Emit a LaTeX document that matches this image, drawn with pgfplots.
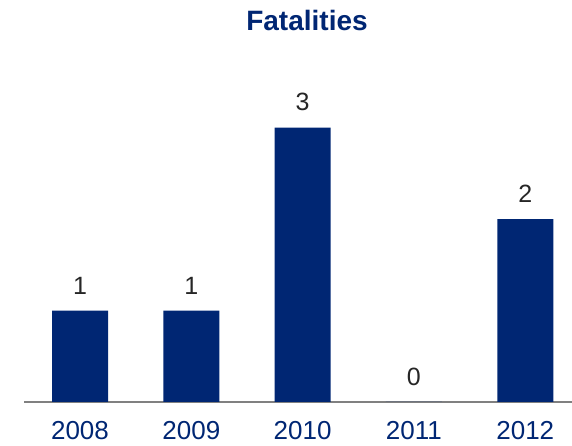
\documentclass[border=0pt]{standalone}
\usepackage{pgfplots}
\pgfplotsset{compat=1.18}
\usepackage{fontspec}
\setmainfont{Liberation Sans}
\definecolor{barblue}{RGB}{0,38,115}
\definecolor{titleblue}{RGB}{0,38,115}
\definecolor{lblgray}{RGB}{38,38,38}
\begin{document}
\begin{tikzpicture}[x=1pt,y=1pt]
\useasboundingbox (0,0) rectangle (572,446);
\node[font=\fontsize{28}{32}\selectfont\bfseries, text=titleblue] at (307,425) {Fatalities};
\begin{axis}[
  at={(80pt,44pt)}, anchor=origin,
  scale only axis,
  width=548pt, height=320pt,
  xmin=-0.503, xmax=4.42,
  ymin=0, ymax=3.5,
  axis x line*=bottom, axis y line=none,
  x axis line style={draw=gray, line width=1.2pt, -},
  ybar, bar width=56pt,
  xtick={0,1,2,3,4},
  xticklabels={2008,2009,2010,2011,2012},
  major tick length=0pt,
  xticklabel style={font=\fontsize{26}{30}\selectfont, text=titleblue, inner sep=0pt, yshift=-19pt},
  ytick=\empty,
  /pgf/number format/assume math mode=true,
  nodes near coords,
  every node near coord/.append style={font=\fontsize{25}{30}\selectfont, text=lblgray, yshift=13pt},
  clip=false,
]
\addplot[fill=barblue, draw=none] coordinates {(0,1) (1,1) (2,3) (3,0) (4,2)};
\end{axis}
\end{tikzpicture}
\end{document}
